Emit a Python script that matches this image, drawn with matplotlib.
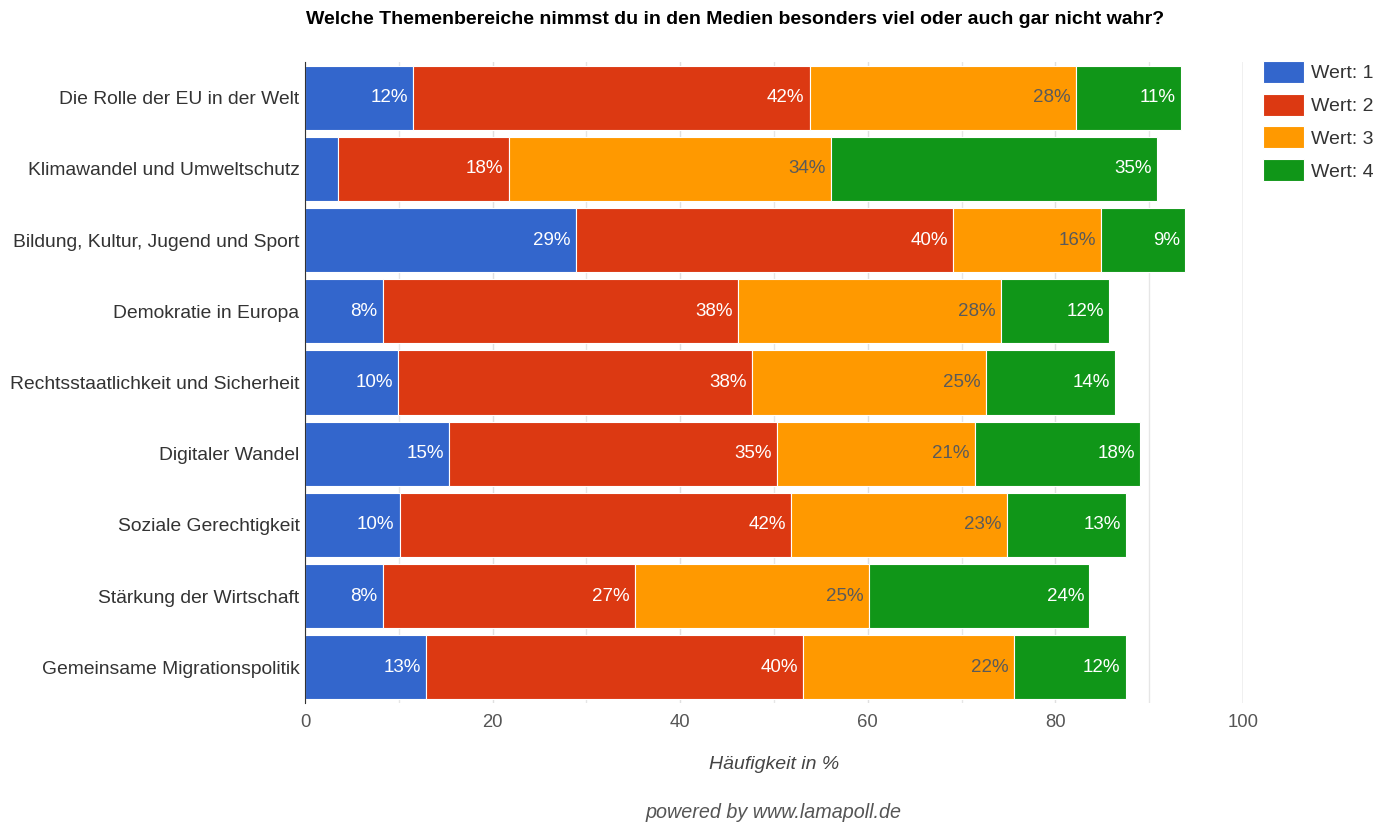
import numpy as np
import matplotlib
matplotlib.use("Agg")
import matplotlib.pyplot as plt

plt.rcParams['font.family'] = ['Liberation Sans', 'DejaVu Sans']

categories = [
    "Die Rolle der EU in der Welt",
    "Klimawandel und Umweltschutz",
    "Bildung, Kultur, Jugend und Sport",
    "Demokratie in Europa",
    "Rechtsstaatlichkeit und Sicherheit",
    "Digitaler Wandel",
    "Soziale Gerechtigkeit",
    "Stärkung der Wirtschaft",
    "Gemeinsame Migrationspolitik",
]
wert1 = [11.5, 3.5, 28.9, 8.3, 9.9, 15.4, 10.1, 8.3, 12.9]
wert2 = [42.3, 18.2, 40.2, 37.9, 37.8, 34.9, 41.7, 26.9, 40.2]
wert3 = [28.4, 34.4, 15.8, 28.0, 24.9, 21.1, 23.0, 24.9, 22.5]
wert4 = [11.2, 34.7, 8.9, 11.5, 13.8, 17.6, 12.7, 23.5, 11.9]
series_names = ["Wert: 1", "Wert: 2", "Wert: 3", "Wert: 4"]
colors = ["#3366cc", "#dc3912", "#ff9900", "#109618"]
label_colors = ["white", "white", "#5a5a5a", "white"]

fig = plt.figure(figsize=(13.89, 8.23), dpi=100)
ax = fig.add_axes([305 / 1389, 1 - 703 / 823, 938 / 1389, 641 / 823])

y = np.arange(len(categories))
left = np.zeros(len(categories))
for vals, name, col, lcol in zip([wert1, wert2, wert3, wert4], series_names, colors, label_colors):
    vals = np.array(vals)
    ax.barh(y, vals, left=left, height=0.9, color=col, edgecolor="white",
            linewidth=0.8, label=name, zorder=3)
    for yi, l, v in zip(y, left, vals):
        if v >= 5:
            ax.text(l + v - 0.55, yi, f"{round(v):.0f}%", ha="right", va="center",
                    color=lcol, fontsize=13.5, zorder=4)
    left = left + vals

ax.set_xlim(0, 100)
ax.set_ylim(len(categories) - 0.5, -0.5)
ax.set_yticks(y)
ax.set_yticklabels(categories, fontsize=13.9, color="#333333")
ax.set_xticks(np.arange(0, 101, 20))
ax.set_xticks(np.arange(0, 101, 10), minor=True)
ax.tick_params(axis="x", which="both", length=0, labelsize=13.3, labelcolor="#555555", pad=8)
ax.tick_params(axis="y", length=0, pad=4)
ax.grid(axis="x", which="both", color="#e6e6e6", linewidth=1, zorder=0)
ax.xaxis.grid(True, which="major", color="#e0e0e0")
for s in ["top", "right", "bottom"]:
    ax.spines[s].set_visible(False)
ax.spines["left"].set_color("#333333")
ax.spines["left"].set_zorder(5)
ax.axvline(100, color="#cccccc", linewidth=1, zorder=1)

ax.set_xlabel("Häufigkeit in %", fontsize=14, fontstyle="italic", color="#444444", labelpad=18)

fig.text(735 / 1389, 1 - 20 / 823, "Welche Themenbereiche nimmst du in den Medien besonders viel oder auch gar nicht wahr?",
         ha="center", va="center", fontsize=14, fontweight="bold", color="#000000")
fig.text(774 / 1389, 1 - 812 / 823, "powered by www.lamapoll.de", ha="center", va="center",
         fontsize=14.2, fontstyle="italic", color="#555555")

ax.legend(loc="upper left", bbox_to_anchor=(1263 / 1389, 1 - 61 / 823), bbox_transform=fig.transFigure,
          frameon=False, fontsize=14, handlelength=2.1, handleheight=1.35, labelspacing=0.56,
          handletextpad=0.35, borderpad=0, borderaxespad=0, labelcolor="#333333")

fig.savefig("out.png", dpi=100)
